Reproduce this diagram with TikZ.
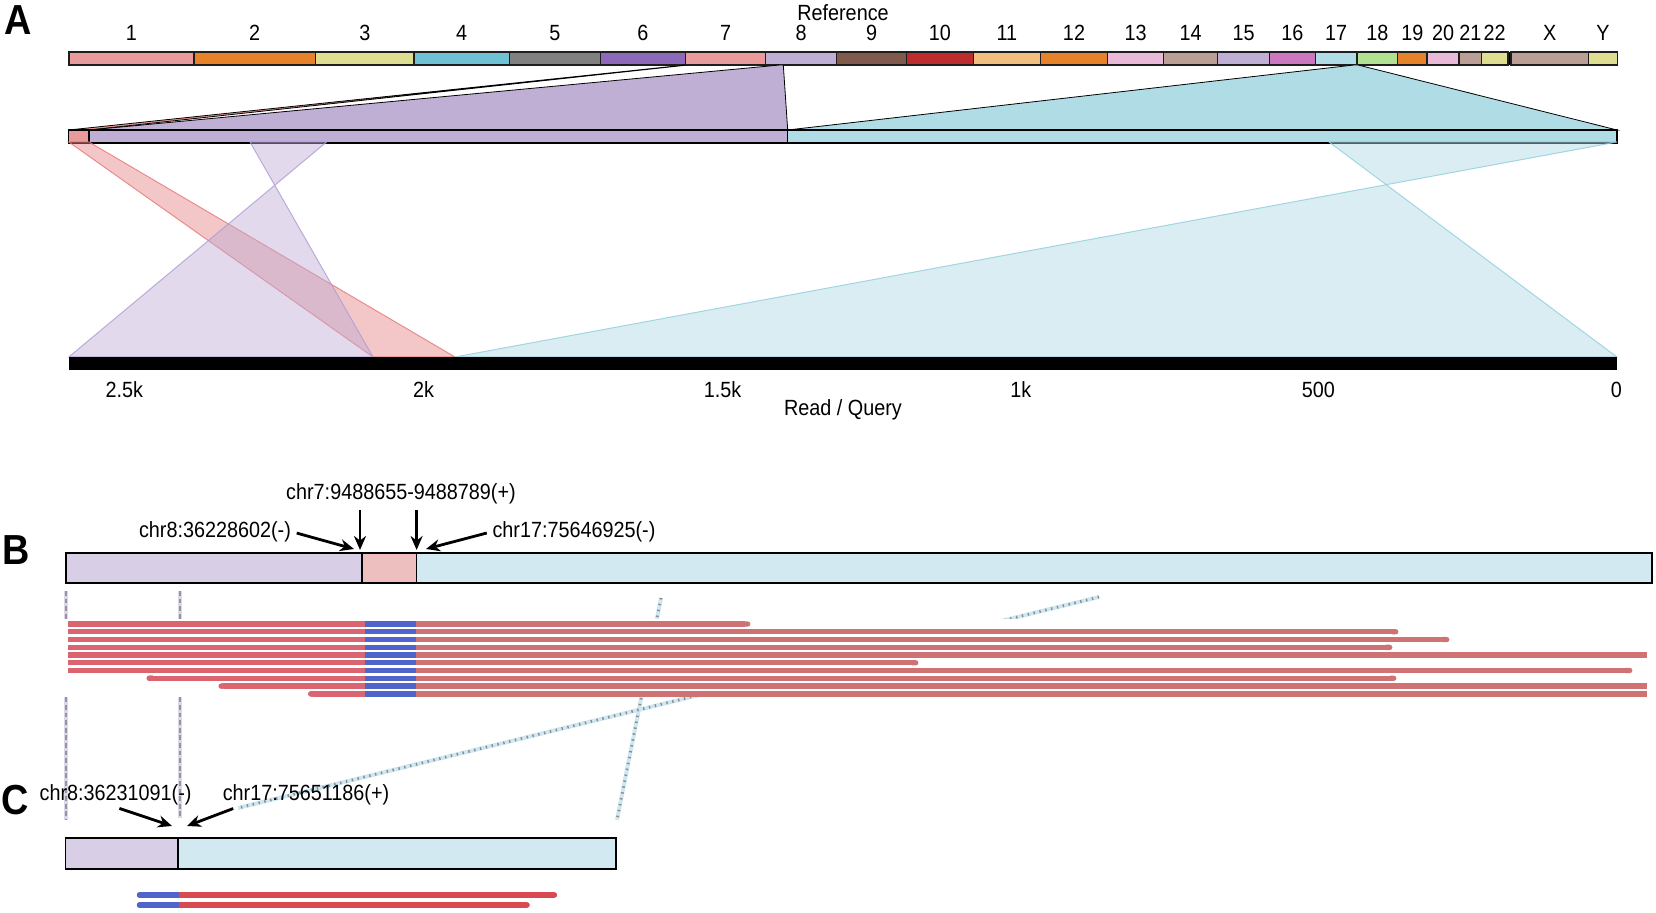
\documentclass[tikz,border=0pt]{standalone}
\usepackage{fontspec}
\setmainfont{Liberation Sans}[FakeStretch=0.9]
\usetikzlibrary{arrows.meta}

\begin{document}
\begin{tikzpicture}[x=0.5pt,y=0.5pt,yscale=-1,xscale=1,
	lab/.style={inner sep=0.75pt, font=\fontsize{11}{13}\selectfont},
	panel/.style={inner sep=0pt, font=\fontsize{21}{25}\selectfont\bfseries},
	chrom/.style={draw={rgb, 255:red, 30; green, 30; blue, 30 }, line width=0.7pt},
	ribbon/.style={draw={rgb, 255:red, 0; green, 0; blue, 0 }, line width=0.4pt},
	qbar/.style={draw={rgb, 255:red, 0; green, 0; blue, 0 }, line width=0.6pt},
	bbar/.style={draw={rgb, 255:red, 0; green, 0; blue, 0 }, line width=0.8pt},
	fSalmon/.style={fill={rgb, 255:red, 233; green, 154; blue, 154 }},
	fOrange/.style={fill={rgb, 255:red, 230; green, 130; blue, 42 }},
	fYellow/.style={fill={rgb, 255:red, 222; green, 222; blue, 145 }},
	fLav/.style={fill={rgb, 255:red, 192; green, 175; blue, 213 }},
	fPink/.style={fill={rgb, 255:red, 232; green, 185; blue, 217 }},
	fRosy/.style={fill={rgb, 255:red, 187; green, 158; blue, 150 }},
	fBlue/.style={fill={rgb, 255:red, 176; green, 220; blue, 230 }},
	spanR/.style={fill={rgb, 255:red, 228; green, 130; blue, 130 }, fill opacity=0.45, draw={rgb, 255:red, 232; green, 120; blue, 120 }, draw opacity=0.8, line width=0.5pt},
	spanP/.style={fill={rgb, 255:red, 190; green, 170; blue, 215 }, fill opacity=0.45, draw={rgb, 255:red, 175; green, 155; blue, 210 }, draw opacity=0.8, line width=0.5pt},
	spanB/.style={fill={rgb, 255:red, 170; green, 215; blue, 228 }, fill opacity=0.45, draw={rgb, 255:red, 145; green, 205; blue, 222 }, draw opacity=0.8, line width=0.5pt},
	linkP/.style={draw={rgb, 255:red, 222; green, 214; blue, 236 }, line width=1.8pt, postaction={draw={rgb, 255:red, 150; green, 150; blue, 150 }, line width=1.1pt, dash pattern=on 2.4pt off 1.4pt}},
	linkB/.style={draw={rgb, 255:red, 205; green, 232; blue, 242 }, line width=2pt, postaction={draw={rgb, 255:red, 140; green, 140; blue, 140 }, line width=1.4pt, dash pattern=on 0.7pt off 2.3pt}},
	readB/.style={line width=2.65pt},
	readC/.style={line width=2.85pt},
	rdL/.style={draw={rgb, 255:red, 218; green, 100; blue, 112 }},
	rdR/.style={draw={rgb, 255:red, 207; green, 114; blue, 116 }},
	rdC/.style={draw={rgb, 255:red, 217; green, 74; blue, 80 }},
	rdBlue/.style={draw={rgb, 255:red, 80; green, 101; blue, 204 }},
	pointer/.style={line width=1.4pt, shorten <=2pt, -{Stealth[length=7pt,width=6pt]}}
	]
\useasboundingbox (0,0) rectangle (1656,913);

% Panel letters
\node (pA) [panel] at (18,20) {A};
\node (pB) [panel] at (16,550) {B};
\node (pC) [panel] at (15,800) {C};

% Text Node
\node (ref) [lab] at (843,13) {Reference};

%Shape: Rectangle (chromosomes)
\fill [black] (1506,52) rectangle (1513,65);
\draw [chrom, fSalmon] (68.8,52) rectangle (193.8,65);
\draw [chrom, fOrange] (193.8,52) rectangle (315.5,65);
\draw [chrom, fYellow] (315.5,52) rectangle (414,65);
\draw [chrom, fill={rgb, 255:red, 110; green, 194; blue, 211 }] (414,52) rectangle (509.3,65);
\draw [chrom, fill={rgb, 255:red, 128; green, 128; blue, 128 }] (509.3,52) rectangle (600.3,65);
\draw [chrom, fill={rgb, 255:red, 140; green, 105; blue, 185 }] (600.3,52) rectangle (685.6,65);
\draw [chrom, fSalmon] (685.6,52) rectangle (765.5,65);
\draw [chrom, fLav] (765.5,52) rectangle (836.6,65);
\draw [chrom, fill={rgb, 255:red, 127; green, 90; blue, 77 }] (836.6,52) rectangle (906.5,65);
\draw [chrom, fill={rgb, 255:red, 190; green, 45; blue, 45 }] (906.5,52) rectangle (973.2,65);
\draw [chrom, fill={rgb, 255:red, 242; green, 191; blue, 128 }] (973.2,52) rectangle (1040.4,65);
\draw [chrom, fOrange] (1040.4,52) rectangle (1107.6,65);
\draw [chrom, fPink] (1107.6,52) rectangle (1163.7,65);
\draw [chrom, fRosy] (1163.7,52) rectangle (1217.7,65);
\draw [chrom, fLav] (1217.7,52) rectangle (1269.6,65);
\draw [chrom, fill={rgb, 255:red, 205; green, 119; blue, 192 }] (1269.6,52) rectangle (1315.2,65);
\draw [chrom, fBlue] (1315.2,52) rectangle (1357,65);
\draw [chrom, fill={rgb, 255:red, 178; green, 225; blue, 145 }] (1357,52) rectangle (1397.7,65);
\draw [chrom, fOrange] (1397.7,52) rectangle (1426.9,65);
\draw [chrom, fPink] (1426.9,52) rectangle (1459.1,65);
\draw [chrom, fRosy] (1459.1,52) rectangle (1481.4,65);
\draw [chrom, fYellow] (1481.4,52) rectangle (1508,65);
\draw [chrom, fRosy] (1511,52) rectangle (1588.3,65);
\draw [chrom, fYellow] (1588.3,52) rectangle (1617.4,65);

% Text Node (chromosome names)
\node (chr1) [lab] at (131.3,33) {1};
\node (chr2) [lab] at (254.7,33) {2};
\node (chr3) [lab] at (364.8,33) {3};
\node (chr4) [lab] at (461.7,33) {4};
\node (chr5) [lab] at (554.8,33) {5};
\node (chr6) [lab] at (643,33) {6};
\node (chr7) [lab] at (725.6,33) {7};
\node (chr8) [lab] at (801,33) {8};
\node (chr9) [lab] at (871.6,33) {9};
\node (chr10) [lab] at (939.9,33) {10};
\node (chr11) [lab] at (1006.8,33) {11};
\node (chr12) [lab] at (1074,33) {12};
\node (chr13) [lab] at (1135.7,33) {13};
\node (chr14) [lab] at (1190.7,33) {14};
\node (chr15) [lab] at (1243.7,33) {15};
\node (chr16) [lab] at (1292.4,33) {16};
\node (chr17) [lab] at (1336.1,33) {17};
\node (chr18) [lab] at (1377.4,33) {18};
\node (chr19) [lab] at (1412.3,33) {19};
\node (chr20) [lab] at (1443,33) {20};
\node (chr21) [lab] at (1470.3,33) {21};
\node (chr22) [lab] at (1494.7,33) {22};
\node (chrX) [lab] at (1549.7,33) {X};
\node (chrY) [lab] at (1602.9,33) {Y};

%Shape: Polygon (reference to query)
\draw [ribbon, fSalmon] (68.8,130) -- (89,130) -- (688,65) -- (685.6,65) -- cycle;
\draw [ribbon, fLav] (89,130) -- (787.7,130) -- (783.3,65) -- (780,65) -- cycle;
\draw [ribbon, fBlue] (787.7,130) -- (1617,130) -- (1358,65) -- (1354,65) -- cycle;

%Shape: Rectangle (query)
\draw [qbar, fSalmon] (68.8,130) rectangle (89,143);
\draw [qbar, fLav] (89,130) rectangle (787.7,143);
\draw [qbar, fBlue] (787.7,130) rectangle (1617,143);

%Shape: Polygon (query to read)
\draw [spanR] (68.8,142) -- (89,142) -- (455,357) -- (373,357) -- cycle;
\draw [spanP] (250,142) -- (326.6,142) -- (68.8,357) -- (373,357) -- cycle;
\draw [spanB] (1329,142) -- (1617,142) -- (455,357) -- (1617,357) -- cycle;

%Shape: Rectangle (read)
\fill [black] (68.8,357) rectangle (1617,370);

% Text Node (read axis)
\node (t25) [lab] at (124.4,390) {2.5k};
\node (t20) [lab] at (423.5,390) {2k};
\node (t15) [lab] at (722.6,390) {1.5k};
\node (t10) [lab] at (1020.8,390) {1k};
\node (t05) [lab] at (1318.3,390) {500};
\node (t00) [lab] at (1616.4,390) {0};
\node (rq) [lab] at (843,410) {Read / Query};

%Straight Lines (links between B and C)
\draw [linkP] (66,591) -- (66,820);
\draw [linkP] (180,591) -- (180,818);
\draw [linkB] (661,598) -- (617,820);
\draw [linkB] (1099,597) -- (238,808);
\fill [white] (0,619) rectangle (1656,697);

%Shape: Rectangle (B)
\draw [bbar, fill={rgb, 255:red, 216; green, 207; blue, 230 }] (66.2,553.3) rectangle (362,583.3);
\draw [bbar, fill={rgb, 255:red, 238; green, 191; blue, 191 }] (362,553.3) rectangle (416.3,583.3);
\draw [bbar, fill={rgb, 255:red, 210; green, 233; blue, 242 }] (416.3,553.3) rectangle (1651.8,583.3);

% reads (B)
\draw [readB, rdR, -{Round Cap}] (67.8,624) -- (750.4,624);
\draw [readB, rdR, -{Round Cap}] (67.8,631.8) -- (1398.4,631.8);
\draw [readB, rdR, -{Round Cap}] (67.8,639.6) -- (1449.4,639.6);
\draw [readB, rdR, -{Round Cap}] (67.8,647.4) -- (1392.4,647.4);
\draw [readB, rdR] (67.8,655.1) -- (1647,655.1);
\draw [readB, rdR, -{Round Cap}] (67.8,662.8) -- (918.4,662.8);
\draw [readB, rdR, -{Round Cap}] (67.8,670.5) -- (1632.4,670.5);
\draw [readB, rdR, {Round Cap}-{Round Cap}] (146.6,678.3) -- (1396.4,678.3);
\draw [readB, rdR, {Round Cap}-] (218.6,686.1) -- (1647,686.1);
\draw [readB, rdR, {Round Cap}-] (308.1,693.9) -- (1647,693.9);
\draw [readB, rdL] (67.8,624) -- (365.3,624);
\draw [readB, rdL] (67.8,631.8) -- (365.3,631.8);
\draw [readB, rdL] (67.8,639.6) -- (365.3,639.6);
\draw [readB, rdL] (67.8,647.4) -- (365.3,647.4);
\draw [readB, rdL] (67.8,655.1) -- (365.3,655.1);
\draw [readB, rdL] (67.8,662.8) -- (365.3,662.8);
\draw [readB, rdL] (67.8,670.5) -- (365.3,670.5);
\draw [readB, rdL, {Round Cap}-] (146.6,678.3) -- (365.3,678.3);
\draw [readB, rdL, {Round Cap}-] (218.6,686.1) -- (365.3,686.1);
\draw [readB, rdL, {Round Cap}-] (308.1,693.9) -- (365.3,693.9);
\draw [readB, rdBlue] (365.3,624) -- (416.1,624);
\draw [readB, rdBlue] (365.3,631.8) -- (416.1,631.8);
\draw [readB, rdBlue] (365.3,639.6) -- (416.1,639.6);
\draw [readB, rdBlue] (365.3,647.4) -- (416.1,647.4);
\draw [readB, rdBlue] (365.3,655.1) -- (416.1,655.1);
\draw [readB, rdBlue] (365.3,662.8) -- (416.1,662.8);
\draw [readB, rdBlue] (365.3,670.5) -- (416.1,670.5);
\draw [readB, rdBlue] (365.3,678.3) -- (416.1,678.3);
\draw [readB, rdBlue] (365.3,686.1) -- (416.1,686.1);
\draw [readB, rdBlue] (365.3,693.9) -- (416.1,693.9);

% Text Node (B breakpoints)
\node (labB7) [lab] at (401,494) {chr7:9488655-9488789(+)};
\node (labB8) [lab] at (215,532) {chr8:36228602(-)};
\node (labB17) [lab] at (574,532) {chr17:75646925(-)};
\coordinate (tipB7a) at (360,550);
\coordinate (tipB7b) at (416.6,550);
\coordinate (tipB8) at (354,549);
\coordinate (tipB17) at (426,549);
\draw [pointer] (labB7.south -| tipB7a) -- (tipB7a);
\draw [pointer] (labB7.south -| tipB7b) -- (tipB7b);
\draw [pointer] (labB8.east) -- (tipB8);
\draw [pointer] (labB17.west) -- (tipB17);

%Shape: Rectangle (C)
\draw [bbar, fill={rgb, 255:red, 216; green, 207; blue, 230 }] (65.6,838.3) rectangle (177.7,869);
\draw [bbar, fill={rgb, 255:red, 210; green, 233; blue, 242 }] (177.7,838.3) rectangle (616,869);

% reads (C)
\draw [readC, rdC, {Round Cap}-{Round Cap}] (136.8,895) -- (557.2,895);
\draw [readC, rdC, {Round Cap}-{Round Cap}] (136.8,905) -- (529.8,905);
\draw [readC, rdBlue, {Round Cap}-] (136.8,895) -- (178.6,895);
\draw [readC, rdBlue, {Round Cap}-] (136.8,905) -- (178.6,905);

% Text Node (C breakpoints)
\node (labC8) [lab] at (115.6,795) {chr8:36231091(-)};
\node (labC17) [lab] at (306,795) {chr17:75651186(+)};
\coordinate (tipC8) at (172,826);
\coordinate (tipC17) at (187,826);
\draw [pointer] (labC8.south) -- (tipC8);
\draw [pointer] ([xshift=8pt]labC17.south west) -- (tipC17);

\end{tikzpicture}
\end{document}
